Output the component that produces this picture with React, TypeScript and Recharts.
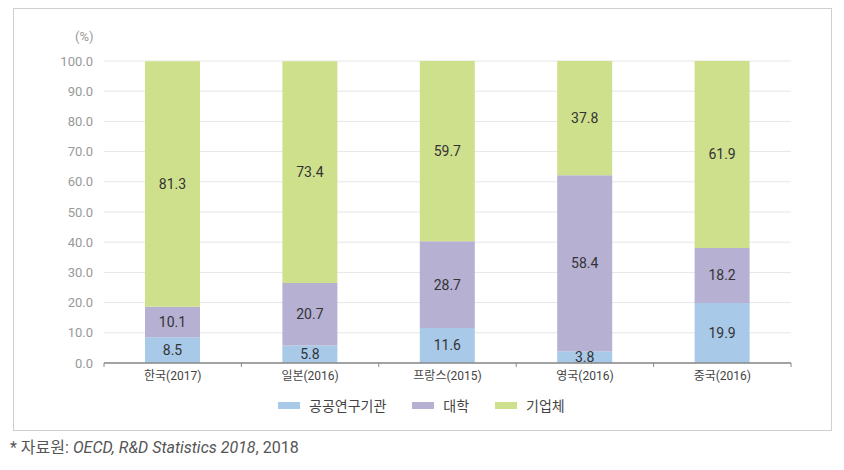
import { BarChart, Bar, XAxis, YAxis, CartesianGrid, LabelList } from 'recharts'

const countries = ['한국(2017)', '일본(2016)', '프랑스(2015)', '영국(2016)', '중국(2016)']
const publicLabs = [8.5, 5.8, 11.6, 3.8, 19.9]
const universities = [10.1, 20.7, 28.7, 58.4, 18.2]
const companies = [81.3, 73.4, 59.7, 37.8, 61.9]
const yTicks = [0, 10, 20, 30, 40, 50, 60, 70, 80, 90, 100]

const SERIES = [
  { key: 'pub', name: '공공연구기관', color: '#a9c9e8' },
  { key: 'uni', name: '대학', color: '#b6b0d3' },
  { key: 'biz', name: '기업체', color: '#cfe08d' },
]

const FONT = "Roboto, 'Noto Sans CJK KR', sans-serif"

const data = countries.map((c, i) => ({
  name: c,
  pub: publicLabs[i],
  uni: universities[i],
  biz: companies[i],
}))

const W = 844
const H = 470
const M = { top: 61, right: 53, left: 44, bottom: 77 }
const Y_W = 60
const BAND = (W - M.left - M.right - Y_W) / countries.length

function CategoryTick(props: any) {
  const { x, y, payload, index } = props
  const half = payload?.offset || BAND / 2
  return (
    <g>
      <line x1={x - half} x2={x - half} y1={y - 8} y2={y - 4} stroke="#888" />
      {index === countries.length - 1 && (
        <line x1={x + half} x2={x + half} y1={y - 8} y2={y - 4} stroke="#888" />
      )}
      <text x={x} y={y + 9} textAnchor="middle" fill="#444" fontSize={12} fontFamily={FONT}>
        {payload.value}
      </text>
    </g>
  )
}

export default function App() {
  return (
    <div style={{ position: 'absolute', left: 0, top: 0, width: W, height: H, background: '#fff', fontFamily: FONT }}>
      <div style={{ position: 'absolute', left: 13, top: 8, width: 817, height: 421, border: '1px solid #cfcfcf' }} />
      <div style={{ position: 'absolute', left: 75, top: 29, fontSize: 13, color: '#999' }}>(%)</div>
      <BarChart width={W} height={H} data={data} margin={M} barSize={55}>
        <CartesianGrid vertical={false} stroke="#e6e6e6" />
        <XAxis
          dataKey="name"
          axisLine={{ stroke: '#888', strokeWidth: 1.5 }}
          tickLine={false}
          tick={<CategoryTick />}
          interval={0}
        />
        <YAxis
          width={Y_W}
          domain={[0, 100]}
          ticks={yTicks}
          axisLine={false}
          tickLine={false}
          tickMargin={5}
          tickFormatter={(v: number) => v.toFixed(1)}
          tick={{ fill: '#999', fontSize: 13, fontFamily: FONT }}
        />
        {SERIES.map((s) => (
          <Bar key={s.key} dataKey={s.key} name={s.name} stackId="a" fill={s.color} isAnimationActive={false}>
            <LabelList
              dataKey={s.key}
              position="center"
              formatter={(v: number) => v.toFixed(1)}
              style={{ fill: '#333', fontSize: 14, fontFamily: FONT }}
            />
          </Bar>
        ))}
      </BarChart>
      <div
        style={{
          position: 'absolute', left: 278, top: 395, display: 'flex', alignItems: 'center',
          fontSize: 14, color: '#444',
        }}
      >
        {SERIES.map((s) => (
          <div key={s.key} style={{ display: 'flex', alignItems: 'center', marginRight: 26 }}>
            <span style={{ display: 'inline-block', width: 22, height: 7, background: s.color, marginRight: 9 }} />
            <span>{s.name}</span>
          </div>
        ))}
      </div>
      <div style={{ position: 'absolute', left: 10, top: 434, fontSize: 16, color: '#555' }}>
        * 자료원: <i>OECD, R&amp;D Statistics 2018</i>, 2018
      </div>
    </div>
  )
}
